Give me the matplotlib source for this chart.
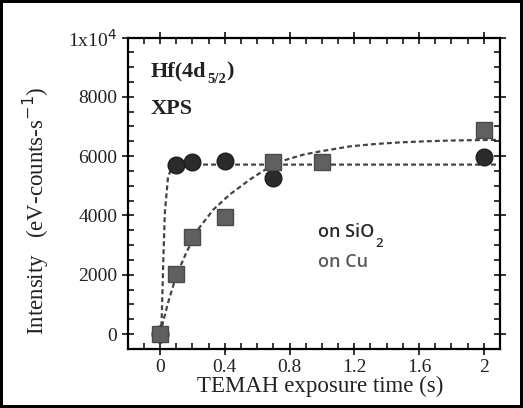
import matplotlib
matplotlib.use("Agg")
import matplotlib.pyplot as plt
from matplotlib.ticker import MultipleLocator, FuncFormatter

# measured points
t_sio2 = [0, 0.1, 0.2, 0.4, 0.7, 2.0]
i_sio2 = [0, 5700, 5790, 5850, 5270, 5970]
t_cu = [0, 0.1, 0.2, 0.4, 0.7, 1.0, 2.0]
i_cu = [0, 2030, 3270, 3950, 5790, 5800, 6870]

# dashed fit curves
fit_sio2_t = [0, 0.01, 0.02, 0.03, 0.05, 0.08, 0.12, 0.2, 0.5, 1.0, 1.5, 2.1]
fit_sio2_i = [0, 400, 2400, 4100, 5320, 5680, 5714, 5714, 5714, 5714, 5714, 5714]
fit_cu_t = [0, 0.05, 0.10, 0.163, 0.235, 0.33, 0.43, 0.555, 0.68, 0.78, 0.885, 1.0, 1.175, 1.33, 1.485, 1.64, 1.79, 1.95, 2.1]
fit_cu_i = [0, 1060, 1960, 2750, 3530, 4200, 4700, 5210, 5650, 5880, 6050, 6170, 6330, 6410, 6464, 6500, 6525, 6540, 6550]

plt.rcParams["font.family"] = ["Liberation Serif", "DejaVu Serif"]

fig = plt.figure(figsize=(5.23, 4.08), dpi=100)
fig.patch.set_edgecolor("black")
fig.patch.set_linewidth(3)
ax = fig.add_axes([0.244, 0.145, 0.712, 0.763])

ax.plot(fit_sio2_t, fit_sio2_i, ls=(0, (2.2, 1.4)), color="#444444", lw=1.6, zorder=1)
ax.plot(fit_cu_t, fit_cu_i, ls=(0, (2.2, 1.4)), color="#444444", lw=1.6, zorder=1)
ax.plot(t_sio2, i_sio2, "o", ms=12, color="#2b2b2b", mec="#1e1e1e", zorder=3)
ax.plot(t_cu, i_cu, "s", ms=11, color="#606060", mec="#4a4a4a", zorder=4)

ax.set_xlim(-0.2, 2.1)
ax.set_ylim(-500, 10000)
ax.xaxis.set_major_locator(MultipleLocator(0.4))
ax.xaxis.set_minor_locator(MultipleLocator(0.1))
ax.yaxis.set_major_locator(MultipleLocator(2000))
ax.yaxis.set_minor_locator(MultipleLocator(500))
ax.xaxis.set_major_formatter(FuncFormatter(lambda v, p: "0" if abs(v) < 1e-9 else ("2" if abs(v - 2) < 1e-9 else f"{v:.1f}")))
ax.yaxis.set_major_formatter(FuncFormatter(lambda v, p: r"1x10$^4$" if v == 10000 else f"{int(v)}"))

ax.tick_params(which="major", direction="inout", length=8, width=1.3, top=True, right=True, labelsize=14, colors="#222222")
ax.tick_params(which="minor", direction="in", length=4, width=1.1, top=True, right=True)
for s in ax.spines.values():
    s.set_linewidth(1.6)

ax.set_xlabel("TEMAH exposure time (s)", fontsize=16.5, color="#222222")
ax.set_ylabel(r"Intensity   (eV-counts-s$^{-1}$)", fontsize=16.5, color="#222222")
ax.xaxis.set_label_coords(0.5165, -0.088)
ax.yaxis.set_label_coords(-0.205, 0.442)

# Hf(4d5/2) with a low subscript
h1 = ax.text(0.062, 0.892, "Hf(4d", transform=ax.transAxes, fontsize=16, fontweight="bold",
             va="center", ha="left", color="#222222")
h2 = ax.annotate("5/2", xy=(1.0, 0.0), xycoords=h1, xytext=(0.5, 6), textcoords="offset points",
                 fontsize=10.5, fontweight="bold", va="top", ha="left", color="#222222")
ax.annotate(")", xy=(1.0, 0.5), xycoords=(h2, h1), xytext=(0.5, 0), textcoords="offset points",
            fontsize=16, fontweight="bold", va="center", ha="left", color="#222222")
ax.text(0.062, 0.772, "XPS", transform=ax.transAxes, fontsize=16, fontweight="bold",
        va="center", ha="left", color="#222222")

t1 = ax.text(0.51, 0.374, "on SiO", transform=ax.transAxes, fontsize=13, fontweight="semibold",
             family=["Open Sans", "DejaVu Sans"], va="center", ha="left", color="#2a2a2a")
ax.annotate("2", xy=(1.0, 0.0), xycoords=t1, xytext=(1.0, 3.5), textcoords="offset points",
            fontsize=9.5, fontweight="semibold", family=["Open Sans", "DejaVu Sans"],
            va="top", ha="left", color="#2a2a2a")
ax.text(0.51, 0.28, "on Cu", transform=ax.transAxes, fontsize=13, fontweight="semibold",
        family=["Open Sans", "DejaVu Sans"], va="center", ha="left", color="#5a5a5a")

fig.savefig("out.png", dpi=100, edgecolor=fig.get_edgecolor())
